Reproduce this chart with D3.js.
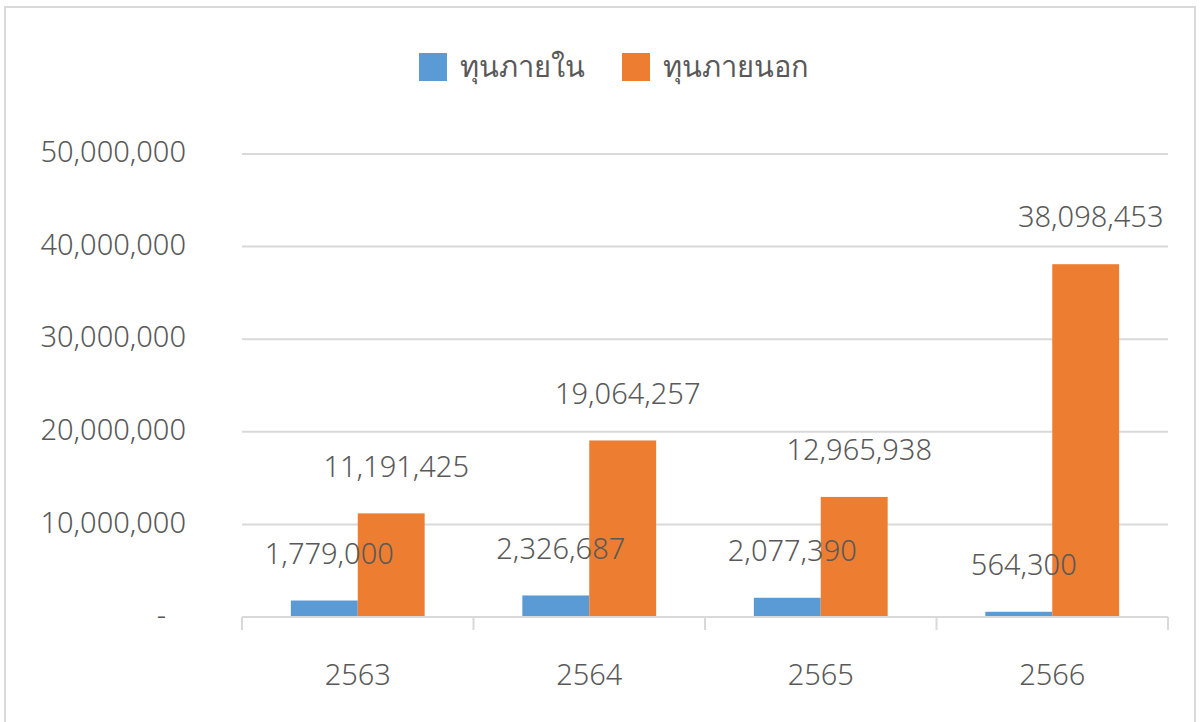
<!DOCTYPE html>
<html>
<head>
<meta charset="utf-8">
<script src="https://cdn.jsdelivr.net/npm/d3@7"></script>
<style>
  body { margin: 0; background: #fff; }
  text { font-family: "Noto Sans", "Open Sans", sans-serif; fill: #595959; }
</style>
</head>
<body>
<svg id="chart" width="1200" height="722"></svg>
<script>
const years = ["2563", "2564", "2565", "2566"]
const seriesNames = ["ทุนภายใน", "ทุนภายนอก"]
const internalFunds = [1779000, 2326687, 2077390, 564300]
const externalFunds = [11191425, 19064257, 12965938, 38098453]
const yTicks = [0, 10000000, 20000000, 30000000, 40000000, 50000000]
const colors = ["#5b9bd5", "#ed7d31"]

const svg = d3.select("#chart")
const margin = {left: 242, right: 32, top: 154, bottom: 105}
const width = 1200
const height = 722

// outer frame
svg.append("rect")
    .attr("x", 5).attr("y", 7)
    .attr("width", 1190).attr("height", 730)
    .attr("fill", "none")
    .attr("stroke", "#d9d9d9")
    .attr("stroke-width", 2)

const x = d3.scaleBand()
    .domain(years)
    .range([margin.left, width - margin.right])

const inner = d3.scaleBand()
    .domain(seriesNames)
    .range([0, x.bandwidth()])
    .paddingOuter(0.73)
    .paddingInner(0)

const y = d3.scaleLinear()
    .domain([0, 50000000])
    .range([height - margin.bottom, margin.top])

const fmt = d3.format(",")

// gridlines
svg.append("g")
    .selectAll("line")
    .data(yTicks.slice(1))
    .join("line")
    .attr("x1", margin.left).attr("x2", width - margin.right)
    .attr("y1", d => y(d)).attr("y2", d => y(d))
    .attr("stroke", "#d9d9d9")
    .attr("stroke-width", 2)

// y labels
svg.append("g")
    .selectAll("text")
    .data(yTicks)
    .join("text")
    .attr("x", d => d === 0 ? 166 : 186)
    .attr("y", d => y(d) - 2)
    .attr("dy", "0.35em")
    .attr("text-anchor", "end")
    .attr("font-size", 29)
    .attr("font-weight", 300)
    .text(d => d === 0 ? "-" : fmt(d))

// bars
const groups = svg.append("g")
    .selectAll("g")
    .data(years)
    .join("g")
    .attr("transform", d => `translate(${x(d)},0)`)

const rows = years.map((yr, i) => [
    {name: seriesNames[0], value: internalFunds[i]},
    {name: seriesNames[1], value: externalFunds[i]}
])

groups.selectAll("rect")
    .data((d, i) => rows[i])
    .join("rect")
    .attr("x", d => inner(d.name))
    .attr("y", d => y(d.value))
    .attr("width", inner.bandwidth())
    .attr("height", d => y(0) - y(d.value))
    .attr("fill", (d, i) => colors[i])

groups.selectAll("text")
    .data((d, i) => rows[i])
    .join("text")
    .attr("x", d => inner(d.name) + inner.bandwidth() / 2 + 5)
    .attr("y", d => y(d.value) - 47)
    .attr("dy", "0.35em")
    .attr("text-anchor", "middle")
    .attr("font-size", 29)
    .attr("font-weight", 300)
    .text(d => fmt(d.value))

// x axis
const xAxis = svg.append("g")
xAxis.append("line")
    .attr("x1", margin.left).attr("x2", width - margin.right)
    .attr("y1", y(0)).attr("y2", y(0))
    .attr("stroke", "#d9d9d9")
    .attr("stroke-width", 2)

const edges = years.map(d => x(d)).concat([x(years[years.length - 1]) + x.bandwidth()])
xAxis.selectAll("line.tick")
    .data(edges)
    .join("line")
    .attr("class", "tick")
    .attr("x1", d => d).attr("x2", d => d)
    .attr("y1", y(0)).attr("y2", y(0) + 13)
    .attr("stroke", "#d9d9d9")
    .attr("stroke-width", 2)

xAxis.selectAll("text")
    .data(years)
    .join("text")
    .attr("x", d => x(d) + x.bandwidth() / 2)
    .attr("y", 675)
    .attr("dy", "0.35em")
    .attr("text-anchor", "middle")
    .attr("font-size", 29)
    .attr("font-weight", 300)
    .text(d => d)

// legend
const legendX = [419, 622]
const legend = svg.append("g")
    .selectAll("g")
    .data(seriesNames)
    .join("g")
    .attr("transform", (d, i) => `translate(${legendX[i]},53)`)

legend.append("rect")
    .attr("width", 28).attr("height", 28)
    .attr("fill", (d, i) => colors[i])

legend.append("text")
    .attr("x", 41)
    .attr("y", 14)
    .attr("dy", "0.35em")
    .attr("font-size", 29)
    .attr("font-weight", 300)
    .text(d => d)
</script>
</body>
</html>
